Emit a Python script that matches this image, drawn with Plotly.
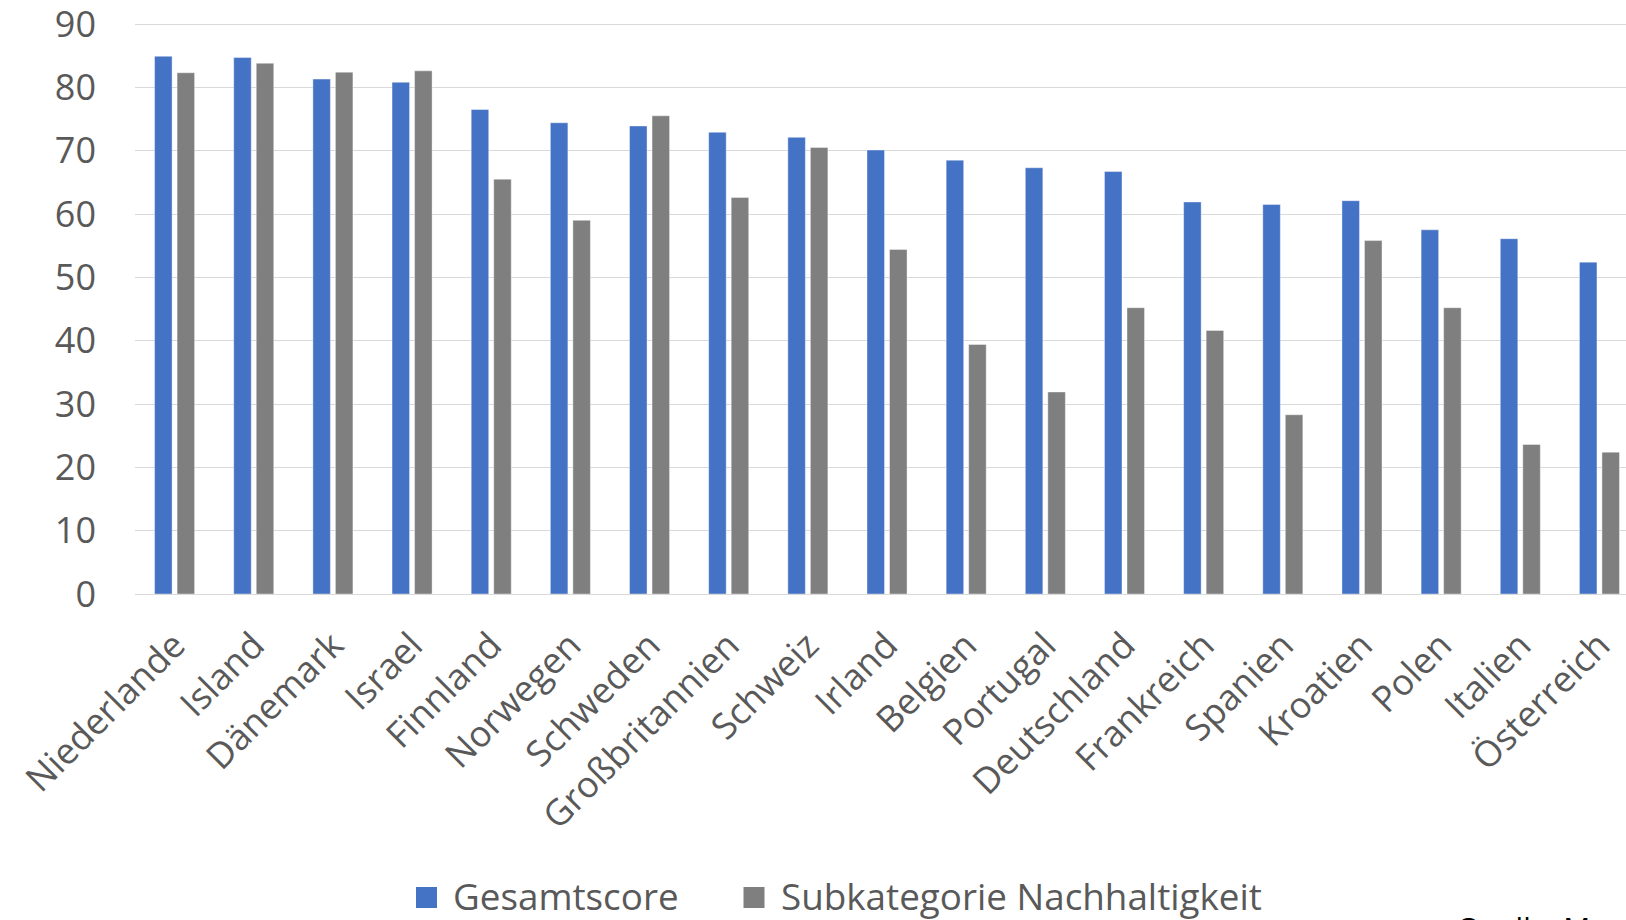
import plotly.graph_objects as go

countries = ["Niederlande", "Island", "Dänemark", "Israel", "Finnland", "Norwegen",
             "Schweden", "Großbritannien", "Schweiz", "Irland", "Belgien", "Portugal",
             "Deutschland", "Frankreich", "Spanien", "Kroatien", "Polen", "Italien",
             "Österreich"]
gesamtscore = [84.9, 84.7, 81.3, 80.8, 76.5, 74.4, 73.9, 72.9, 72.1, 70.1, 68.5, 67.3,
               66.7, 61.9, 61.5, 62.1, 57.5, 56.1, 52.4]
nachhaltigkeit = [82.3, 83.8, 82.4, 82.6, 65.5, 59.0, 75.5, 62.6, 70.5, 54.4, 39.4, 31.9,
                  45.2, 41.6, 28.3, 55.8, 45.2, 23.6, 22.4]
y_ticks = [0, 10, 20, 30, 40, 50, 60, 70, 80, 90]
series_names = ["Gesamtscore", "Subkategorie Nachhaltigkeit"]
series_colors = ["#4472C4", "#7F7F7F"]
source_text = "Quelle: Mercer"

W, H = 1626, 920
ML, MR, MT, MB = 135, 0, 22, 326
cat_px = 79.16
plot_w = W - ML - MR
plot_h = H - MT - MB
y_top = 90 * plot_h / (plot_h - 2)  # 90 gridline 2 px below plot top

fig = go.Figure()
for name, vals, col in zip(series_names, [gesamtscore, nachhaltigkeit], series_colors):
    fig.add_trace(go.Bar(x=countries, y=vals, name=name, showlegend=False,
                         marker=dict(color=col, line=dict(color="rgba(255,255,255,0.5)", width=0.8))))

tick_font = dict(family="Open Sans, Noto Sans, sans-serif", size=36, color="#595959")

def paper_y(py):
    return (H - MB - py) / plot_h

def paper_x(px):
    return (px - ML) / plot_w

# legend (drawn as squares + text)
legend_items = [(416, 451), (743.5, 779)]
shapes = []
annotations = []
for (sx, tx), name, col in zip(legend_items, series_names, series_colors):
    shapes.append(dict(type="rect", xref="paper", yref="paper",
                       x0=paper_x(sx), x1=paper_x(sx + 21), y0=paper_y(908), y1=paper_y(887),
                       fillcolor=col, line=dict(width=0)))
    annotations.append(dict(text=name, xref="paper", yref="paper", x=paper_x(tx), y=paper_y(896),
                            xanchor="left", yanchor="middle", showarrow=False,
                            font=dict(family="Open Sans, Noto Sans, sans-serif", size=36.8,
                                      color="#595959")))
annotations.append(dict(text=source_text, xref="paper", yref="paper",
                        x=paper_x(1455), y=paper_y(905), xanchor="left", yanchor="top",
                        showarrow=False,
                        font=dict(family="Open Sans, Noto Sans, sans-serif", size=30, color="#000000")))

fig.update_layout(
    width=W, height=H,
    margin=dict(l=ML, r=MR, t=MT, b=MB, pad=0),
    plot_bgcolor="white", paper_bgcolor="white",
    barmode="group", bargap=0.431, bargroupgap=0.222,
    showlegend=False,
    xaxis=dict(range=[-0.5, -0.5 + plot_w / cat_px], tickangle=-45, tickfont=tick_font,
               showgrid=False, ticks="", showline=False, ticklabelstandoff=22, automargin=False),
    yaxis=dict(range=[0, y_top], tickvals=y_ticks, tickfont=tick_font, showgrid=True,
               gridcolor="#D9D9D9", gridwidth=1.3, zeroline=True, zerolinecolor="#D9D9D9",
               zerolinewidth=1.3, showline=False, ticks="", ticklabelstandoff=38, automargin=False,
               ticklabeloverflow="allow"),
    shapes=shapes,
    annotations=annotations,
)

fig.write_html("out.html", config={"displayModeBar": False},
               post_script="document.body.style.margin='0';document.body.style.overflow='hidden';")
